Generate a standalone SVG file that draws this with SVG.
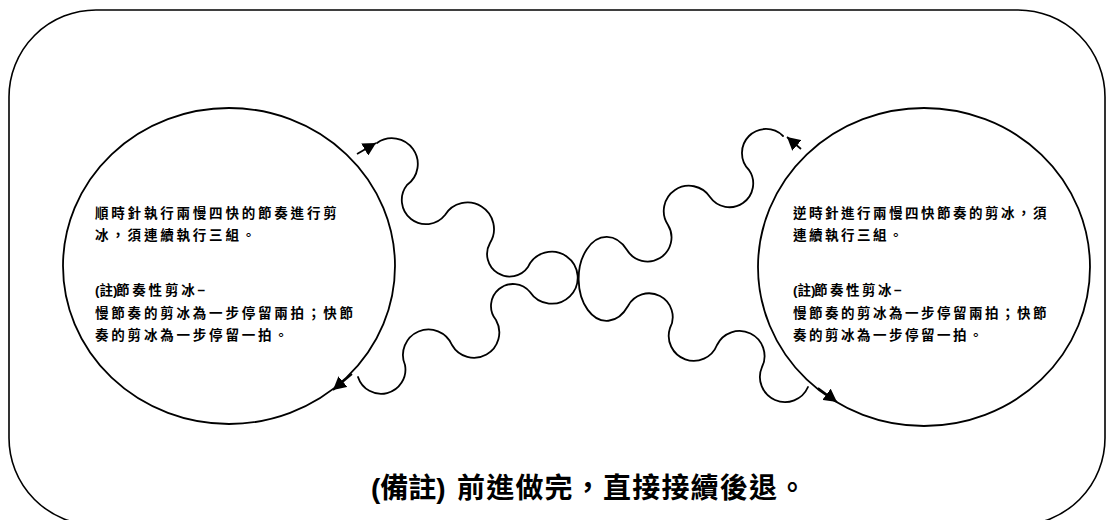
<svg xmlns="http://www.w3.org/2000/svg" width="1114" height="520" viewBox="0 0 1114 520">
  <defs>
    <marker id="ah" viewBox="0 0 13 14" refX="13" refY="7" markerWidth="13" markerHeight="14" markerUnits="userSpaceOnUse" orient="auto">
      <path d="M0,0 L13,7 L0,14 z" fill="#000"/>
    </marker>
    <style>
      .frame { fill: none; stroke: #000; stroke-width: 1.6; }
      .ring { fill: none; stroke: #000; stroke-width: 1.8; }
      .wave { fill: none; stroke: #000; stroke-width: 1.8; stroke-linecap: round; }
      .arrow { fill: none; stroke: #000; stroke-width: 1.8; marker-end: url(#ah); }
      .body { font-family: "Liberation Sans", "Noto Sans CJK TC", sans-serif; font-size: 13.5px; font-weight: 700; fill: #000; }
      .sp { letter-spacing: 2.8px; }
      .spr { letter-spacing: 2.5px; }
      .note { font-family: "Liberation Sans", "Noto Sans CJK TC", sans-serif; font-size: 28px; font-weight: 700; fill: #000; }
    </style>
  </defs>
  <rect width="1114" height="520" fill="#fff"/>

  <g id="frame">
    <rect class="frame" x="9" y="10" width="1096" height="515" rx="87" ry="87"/>
  </g>

  <g id="left-node">
    <ellipse class="ring" cx="229" cy="266" rx="166" ry="158"/>
    <text class="body sp" x="95" y="218">順時針執行兩慢四快的節奏進行剪</text>
    <text class="body sp" x="95" y="240">冰，須連續執行三組。</text>
    <text class="body" y="295"><tspan x="95">(註)</tspan><tspan class="sp" x="116">節奏性剪冰−</tspan></text>
    <text class="body sp" x="95" y="318">慢節奏的剪冰為一步停留兩拍；快節</text>
    <text class="body sp" x="95" y="340">奏的剪冰為一步停留一拍。</text>
  </g>

  <g id="right-node">
    <ellipse class="ring" cx="924" cy="267" rx="166" ry="159"/>
    <text class="body spr" x="793" y="218">逆時針進行兩慢四快節奏的剪冰，須</text>
    <text class="body spr" x="793" y="240">連續執行三組。</text>
    <text class="body" y="295"><tspan x="793">(註)</tspan><tspan class="spr" x="814">節奏性剪冰−</tspan></text>
    <text class="body spr" x="793" y="318">慢節奏的剪冰為一步停留兩拍；快節</text>
    <text class="body spr" x="793" y="340">奏的剪冰為一步停留一拍。</text>
  </g>

  <g id="connectors">
    <path id="wave-left" class="wave" d="M377,143 A25.8,25.8 0 0 1 407,185 A24.2,24.2 0 0 0 445,215 A26.5,26.5 0 0 1 490,243 A22.5,22.5 0 0 0 528,267 A26,26 0 1 1 530,292 A22,22 0 0 0 496,320 A25.3,25.3 0 0 1 452,345 A25.5,25.5 0 0 0 405,365 A24.3,24.3 0 0 1 358,377"/>
    <path id="wave-right" class="wave" d="M783,136 A24,24 0 0 0 749,170 A23.7,23.7 0 0 1 710,197 A25.2,25.2 0 0 0 668,225 A24,24 0 0 1 627,250 A28,42 0 1 0 628,306 A23.7,23.7 0 0 1 670,328 A25,25 0 0 0 717,345 A25,25 0 0 1 762,367 A25,25 0 0 0 808,387"/>
    <path class="arrow" d="M357,154 L376,143"/>
    <path class="arrow" d="M801,149 L787,137"/>
    <path class="arrow" d="M352,374 L333,390"/>
    <path class="arrow" d="M818,388 L837,402"/>
  </g>

  <g id="note">
    <text class="note" y="498"><tspan x="371">(備註)</tspan><tspan x="457" letter-spacing="1.2">前進做完，直接接續後退。</tspan></text>
  </g>
</svg>
